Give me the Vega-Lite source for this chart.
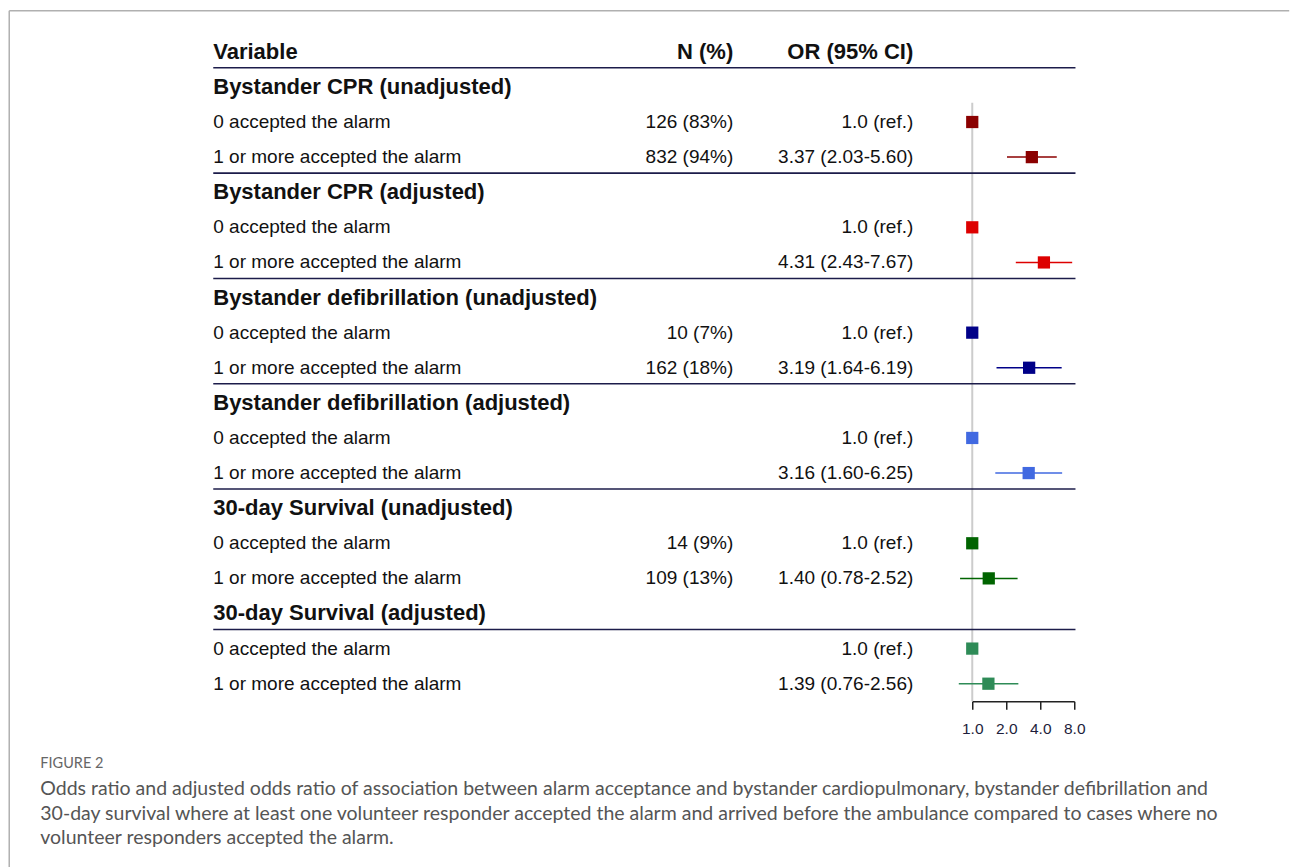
{
  "$schema": "https://vega.github.io/schema/vega-lite/v6.json",
  "padding": {"left": 8.25, "top": 9.25, "right": 0, "bottom": 0},
  "background": "white",
  "bounds": "flush",
  "spacing": 0,
  "config": {"view": {"stroke": null}, "font": "Liberation Sans"},
  "datasets": {
    "rows": [
      {"row": 0, "type": "header", "label": "Variable", "n": "N (%)", "or": "OR (95% CI)", "sep": true},
      {"row": 1, "type": "group", "label": "Bystander CPR (unadjusted)"},
      {"row": 2, "type": "item", "label": "0 accepted the alarm", "n": "126 (83%)", "or": "1.0 (ref.)", "series": "Bystander CPR (unadjusted)", "est": 1},
      {"row": 3, "type": "item", "label": "1 or more accepted the alarm", "n": "832 (94%)", "or": "3.37 (2.03-5.60)", "series": "Bystander CPR (unadjusted)", "est": 3.37, "lo": 2.03, "hi": 5.60, "sep": true},
      {"row": 4, "type": "group", "label": "Bystander CPR (adjusted)"},
      {"row": 5, "type": "item", "label": "0 accepted the alarm", "or": "1.0 (ref.)", "series": "Bystander CPR (adjusted)", "est": 1},
      {"row": 6, "type": "item", "label": "1 or more accepted the alarm", "or": "4.31 (2.43-7.67)", "series": "Bystander CPR (adjusted)", "est": 4.31, "lo": 2.43, "hi": 7.67, "sep": true},
      {"row": 7, "type": "group", "label": "Bystander defibrillation (unadjusted)"},
      {"row": 8, "type": "item", "label": "0 accepted the alarm", "n": "10 (7%)", "or": "1.0 (ref.)", "series": "Bystander defibrillation (unadjusted)", "est": 1},
      {"row": 9, "type": "item", "label": "1 or more accepted the alarm", "n": "162 (18%)", "or": "3.19 (1.64-6.19)", "series": "Bystander defibrillation (unadjusted)", "est": 3.19, "lo": 1.64, "hi": 6.19, "sep": true},
      {"row": 10, "type": "group", "label": "Bystander defibrillation (adjusted)"},
      {"row": 11, "type": "item", "label": "0 accepted the alarm", "or": "1.0 (ref.)", "series": "Bystander defibrillation (adjusted)", "est": 1},
      {"row": 12, "type": "item", "label": "1 or more accepted the alarm", "or": "3.16 (1.60-6.25)", "series": "Bystander defibrillation (adjusted)", "est": 3.16, "lo": 1.60, "hi": 6.25, "sep": true},
      {"row": 13, "type": "group", "label": "30-day Survival (unadjusted)"},
      {"row": 14, "type": "item", "label": "0 accepted the alarm", "n": "14 (9%)", "or": "1.0 (ref.)", "series": "30-day Survival (unadjusted)", "est": 1},
      {"row": 15, "type": "item", "label": "1 or more accepted the alarm", "n": "109 (13%)", "or": "1.40 (0.78-2.52)", "series": "30-day Survival (unadjusted)", "est": 1.40, "lo": 0.78, "hi": 2.52},
      {"row": 16, "type": "group", "label": "30-day Survival (adjusted)", "sep": true},
      {"row": 17, "type": "item", "label": "0 accepted the alarm", "or": "1.0 (ref.)", "series": "30-day Survival (adjusted)", "est": 1},
      {"row": 18, "type": "item", "label": "1 or more accepted the alarm", "or": "1.39 (0.76-2.56)", "series": "30-day Survival (adjusted)", "est": 1.39, "lo": 0.76, "hi": 2.56}
    ],
    "caption": [
      {"part": "figure", "text": "FIGURE 2"},
      {"part": "body", "text": "Odds ratio and adjusted odds ratio of association between alarm acceptance and bystander cardiopulmonary, bystander defibrillation and\n30-day survival where at least one volunteer responder accepted the alarm and arrived before the ambulance compared to cases where no\nvolunteer responders accepted the alarm."}
    ],
    "frame": [{"edge": "border"}]
  },
  "hconcat": [
    {
      "width": 759,
      "height": 667,
      "layer": [
        {
          "data": {"name": "frame"},
          "mark": {"type": "rule", "color": "#cccccc", "strokeWidth": 2},
          "encoding": {
            "x": {"datum": 100, "type": "quantitative", "scale": {"domain": [0, 100], "nice": false, "zero": false}, "axis": null},
            "y": {"datum": 1.45, "type": "quantitative", "scale": {"domain": [-0.5, 18.5], "reverse": true, "nice": false, "zero": false}, "axis": null},
            "y2": {"datum": 18.5}
          }
        },
        {
          "data": {"name": "rows"},
          "transform": [{"filter": "datum.sep === true"}],
          "mark": {"type": "rule", "color": "#1c1c4a", "strokeWidth": 1.6, "yOffset": 16},
          "encoding": {
            "x": {"datum": 0, "type": "quantitative"},
            "x2": {"datum": 113.6},
            "y": {"field": "row", "type": "quantitative"}
          }
        },
        {
          "data": {"name": "rows"},
          "transform": [{"filter": "datum.type !== 'item'"}],
          "mark": {"type": "text", "align": "left", "baseline": "middle", "fontSize": 22, "fontWeight": "bold", "color": "#111111"},
          "encoding": {
            "x": {"datum": 0, "type": "quantitative"},
            "y": {"field": "row", "type": "quantitative"},
            "text": {"field": "label"}
          }
        },
        {
          "data": {"name": "rows"},
          "transform": [{"filter": "datum.type === 'item'"}],
          "mark": {"type": "text", "align": "left", "baseline": "middle", "fontSize": 19, "color": "#111111"},
          "encoding": {
            "x": {"datum": 0, "type": "quantitative"},
            "y": {"field": "row", "type": "quantitative"},
            "text": {"field": "label"}
          }
        },
        {
          "data": {"name": "rows"},
          "transform": [{"filter": "datum.type === 'header'"}],
          "mark": {"type": "text", "align": "right", "baseline": "middle", "fontSize": 22, "fontWeight": "bold", "color": "#111111"},
          "encoding": {
            "x": {"datum": 68.51, "type": "quantitative"},
            "y": {"field": "row", "type": "quantitative"},
            "text": {"field": "n"}
          }
        },
        {
          "data": {"name": "rows"},
          "transform": [{"filter": "datum.type === 'item' && isValid(datum.n)"}],
          "mark": {"type": "text", "align": "right", "baseline": "middle", "fontSize": 19, "color": "#111111"},
          "encoding": {
            "x": {"datum": 68.51, "type": "quantitative"},
            "y": {"field": "row", "type": "quantitative"},
            "text": {"field": "n"}
          }
        },
        {
          "data": {"name": "rows"},
          "transform": [{"filter": "datum.type === 'header'"}],
          "mark": {"type": "text", "align": "right", "baseline": "middle", "fontSize": 22, "fontWeight": "bold", "color": "#111111"},
          "encoding": {
            "x": {"datum": 92.23, "type": "quantitative"},
            "y": {"field": "row", "type": "quantitative"},
            "text": {"field": "or"}
          }
        },
        {
          "data": {"name": "rows"},
          "transform": [{"filter": "datum.type === 'item'"}],
          "mark": {"type": "text", "align": "right", "baseline": "middle", "fontSize": 19, "color": "#111111"},
          "encoding": {
            "x": {"datum": 92.23, "type": "quantitative"},
            "y": {"field": "row", "type": "quantitative"},
            "text": {"field": "or"}
          }
        },
        {
          "data": {"name": "frame"},
          "mark": {"type": "rule", "color": "#b0b0b0", "strokeWidth": 1.5},
          "encoding": {
            "x": {"datum": -26.88, "type": "quantitative"},
            "y": {"datum": -1.168, "type": "quantitative"},
            "y2": {"datum": 23.22}
          }
        },
        {
          "data": {"name": "frame"},
          "mark": {"type": "rule", "color": "#b0b0b0", "strokeWidth": 1.5},
          "encoding": {
            "x": {"datum": -26.88, "type": "quantitative"},
            "x2": {"datum": 141.76},
            "y": {"datum": -1.168, "type": "quantitative"}
          }
        },
        {
          "data": {"name": "caption"},
          "transform": [{"filter": "datum.part === 'figure'"}],
          "mark": {"type": "text", "align": "left", "baseline": "middle", "font": "Lato", "fontSize": 14.5, "color": "#666666"},
          "encoding": {
            "x": {"datum": -22.79, "type": "quantitative"},
            "y": {"datum": 20.285, "type": "quantitative"},
            "text": {"field": "text"}
          }
        },
        {
          "data": {"name": "caption"},
          "transform": [{"filter": "datum.part === 'body'"}],
          "mark": {"type": "text", "align": "left", "baseline": "middle", "font": "Lato", "fontSize": 19.5, "color": "#555555", "lineBreak": "\n", "lineHeight": 24.5},
          "encoding": {
            "x": {"datum": -22.79, "type": "quantitative"},
            "y": {"datum": 21.0, "type": "quantitative"},
            "text": {"field": "text"}
          }
        }
      ]
    },
    {
      "width": 102,
      "height": 667,
      "data": {"name": "rows"},
      "transform": [{"filter": "datum.type === 'item'"}],
      "layer": [
        {
          "transform": [{"filter": "isValid(datum.lo)"}],
          "mark": {"type": "rule", "strokeWidth": 1.5},
          "encoding": {
            "x": {"field": "lo", "type": "quantitative", "scale": {"type": "log", "base": 2, "domain": [1, 8], "nice": false}},
            "x2": {"field": "hi"},
            "y": {"field": "row", "type": "quantitative", "scale": {"domain": [-0.5, 18.5], "reverse": true, "nice": false, "zero": false}, "axis": null},
            "color": {
              "field": "series",
              "type": "nominal",
              "scale": {
                "domain": ["Bystander CPR (unadjusted)", "Bystander CPR (adjusted)", "Bystander defibrillation (unadjusted)", "Bystander defibrillation (adjusted)", "30-day Survival (unadjusted)", "30-day Survival (adjusted)"],
                "range": ["#8b0000", "#dd0000", "#000088", "#4169e1", "#006400", "#2e8b57"]
              },
              "legend": null
            }
          }
        },
        {
          "mark": {"type": "point", "shape": "square", "filled": true, "size": 150, "opacity": 1},
          "encoding": {
            "x": {
              "field": "est",
              "type": "quantitative",
              "scale": {"type": "log", "base": 2, "domain": [1, 8], "nice": false},
              "axis": {
                "values": [1, 2, 4, 8],
                "labelExpr": "format(datum.value, '.1f')",
                "title": null,
                "grid": false,
                "domainColor": "#222222",
                "tickColor": "#222222",
                "domainWidth": 1.5,
                "tickWidth": 1.5,
                "tickSize": 8,
                "labelFontSize": 15.5,
                "labelFont": "Liberation Sans",
                "labelColor": "#1e1e3c",
                "labelPadding": 12,
                "labelFlush": false,
                "labelOverlap": false
              }
            },
            "y": {"field": "row", "type": "quantitative"},
            "color": {"field": "series", "type": "nominal", "legend": null}
          }
        }
      ]
    }
  ]
}
